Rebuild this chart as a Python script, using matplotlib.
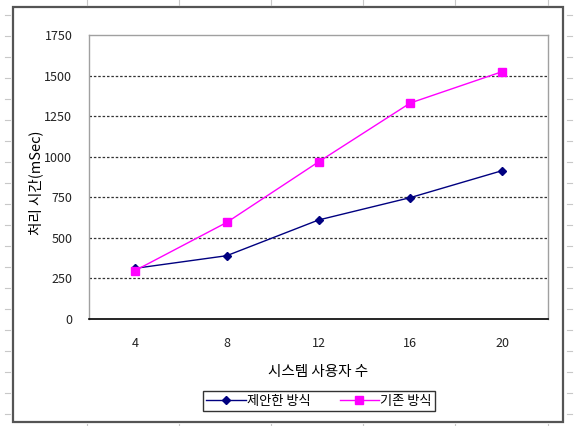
import numpy as np
import matplotlib
matplotlib.use('Agg')
import matplotlib.pyplot as plt
from matplotlib.lines import Line2D
from matplotlib.patches import Rectangle
plt.rcParams['font.family'] = ['Noto Sans CJK KR', 'DejaVu Sans']

users = [4, 8, 12, 16, 20]
proposed = [312, 390, 610, 748, 914]
existing = [298, 595, 968, 1331, 1524]
yticks = [0, 250, 500, 750, 1000, 1250, 1500, 1750]

W, H = 577, 426
fig = plt.figure(figsize=(W/100, H/100), dpi=100)

def fx(px):
    return px / W

def fy(py):
    return 1 - py / H

# outer chart frame
fig.patches.append(Rectangle((fx(13), fy(422)), fx(563) - fx(13), fy(7) - fy(422),
                             transform=fig.transFigure, fill=False,
                             edgecolor='#555555', linewidth=1.6))

# sheet ruler ticks around the frame
tcol = '#c8c8c8'
for x in [87, 179, 271, 363, 455, 548]:
    fig.add_artist(Line2D([fx(x), fx(x)], [fy(0), fy(5)], color=tcol, lw=0.8, transform=fig.transFigure))
    fig.add_artist(Line2D([fx(x), fx(x)], [fy(424), fy(426)], color=tcol, lw=0.8, transform=fig.transFigure))
for y in np.arange(15, 420, 21):
    fig.add_artist(Line2D([fx(5), fx(10)], [fy(y), fy(y)], color=tcol, lw=0.8, transform=fig.transFigure))
    fig.add_artist(Line2D([fx(567), fx(572)], [fy(y), fy(y)], color=tcol, lw=0.8, transform=fig.transFigure))

ax = fig.add_axes([fx(89), fy(319), fx(548) - fx(89), fy(35) - fy(319)])
idx = np.arange(len(users))
ax.plot(idx, proposed, color='#000080', lw=1.0, marker='D', markersize=4.5, label='제안한 방식')
ax.plot(idx, existing, color='#ff00ff', lw=1.0, marker='s', markersize=6, label='기존 방식')

ax.set_xlim(-0.5, len(users) - 0.5)
ax.set_ylim(0, 1750)
ax.set_xticks(idx)
ax.set_xticklabels([str(u) for u in users])
ax.set_yticks(yticks)
ax.tick_params(axis='both', length=0, labelsize=9, colors='#222222')
ax.tick_params(axis='x', pad=13)
ax.tick_params(axis='y', pad=12)
for v in yticks[1:-1]:
    ax.axhline(v, color='#333333', lw=0.9, ls=(0, (2, 1.5)), zorder=0)

for s in ['left', 'top', 'right']:
    ax.spines[s].set_color('#a0a0a0')
    ax.spines[s].set_linewidth(1.0)
ax.spines['bottom'].set_color('#000000')
ax.spines['bottom'].set_linewidth(1.2)

ax.set_xlabel('시스템 사용자 수', fontsize=10.5, labelpad=6)
ax.set_ylabel('처리 시간(mSec)', fontsize=10.5)
axw = fx(548) - fx(89)
ax.yaxis.set_label_coords((fx(43) - fx(89)) / axw, 0.48)
ax.xaxis.set_label_coords(0.5, -(365 - 319) / (319 - 35))

leg = fig.legend(loc='center', bbox_to_anchor=(fx(319), fy(401)), ncol=2, fontsize=9.5,
                 frameon=True, fancybox=False, edgecolor='#000000', borderpad=0.25,
                 handlelength=3.0, columnspacing=2.2, handletextpad=0.1)
leg.get_frame().set_linewidth(1.0)

fig.savefig('out.png', dpi=100)
